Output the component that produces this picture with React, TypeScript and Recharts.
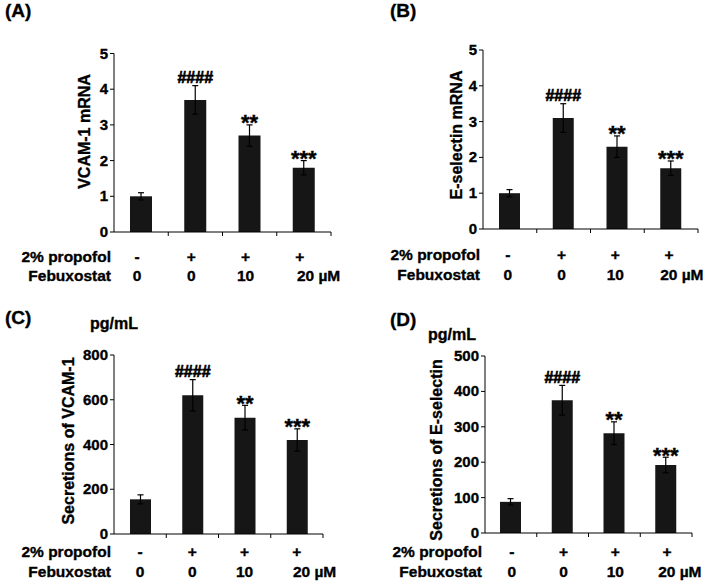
import React from 'react';
import { BarChart, Bar, XAxis, YAxis, ErrorBar, LabelList } from 'recharts';

// groups along the x axis
const groups = ['control', 'propofol', 'feb10', 'feb20'];
const propofolRow = ['-', '+', '+', '+'];
const febuxostatRow = ['0', '0', '10', '20 µM'];
const sigMarks = ['', '####', '**', '***'];

// (A) VCAM-1 mRNA
const vcamMrna = [1.0, 3.7, 2.7, 1.8];
const vcamMrnaErr = [0.1, 0.4, 0.3, 0.2];
// (B) E-selectin mRNA
const eselMrna = [1.0, 3.1, 2.3, 1.7];
const eselMrnaErr = [0.1, 0.4, 0.3, 0.2];
// (C) secreted VCAM-1, pg/mL
const vcamSecretion = [155, 620, 520, 420];
const vcamSecretionErr = [20, 70, 55, 50];
// (D) secreted E-selectin, pg/mL
const eselSecretion = [88, 375, 282, 192];
const eselSecretionErr = [9, 42, 32, 22];

const mrnaTicks = [0, 1, 2, 3, 4, 5];
const vcamSecretionTicks = [0, 200, 400, 600, 800];
const eselSecretionTicks = [0, 100, 200, 300, 400, 500];

const FONT = 'Arial, "Liberation Sans", Helvetica, sans-serif';
const Y_AXIS_W = 60;
const X_AXIS_H = 48;

const panels = [
    {
        letter: '(A)', letterPos: [5, 17], unit: null, unitPos: [0, 0],
        title: 'VCAM-1 mRNA', titleCenter: [84, 131.5],
        values: vcamMrna, errs: vcamMrnaErr, ticks: mrnaTicks,
        box: { left: 0, top: 0, w: 358, h: 290 },
        plot: { left: 114, right: 331, top: 53.5, bottom: 232 },
        barSize: 22, rowDy: [30, 49], labelDx: -4, lastDx: -7,
    },
    {
        letter: '(B)', letterPos: [390, 17], unit: null, unitPos: [0, 0],
        title: 'E-selectin mRNA', titleCenter: [456, 135],
        values: eselMrna, errs: eselMrnaErr, ticks: mrnaTicks,
        box: { left: 358, top: 0, w: 359, h: 290 },
        plot: { left: 483, right: 698, top: 50, bottom: 229 },
        barSize: 21, rowDy: [31, 51], labelDx: -2, lastDx: -11,
    },
    {
        letter: '(C)', letterPos: [5, 324], unit: 'pg/mL', unitPos: [90, 329],
        title: 'Secretions of VCAM-1', titleCenter: [68, 441],
        values: vcamSecretion, errs: vcamSecretionErr, ticks: vcamSecretionTicks,
        box: { left: 0, top: 290, w: 358, h: 294 },
        plot: { left: 114, right: 323, top: 355, bottom: 534 },
        barSize: 21, rowDy: [23, 43], labelDx: 0, lastDx: -4,
    },
    {
        letter: '(D)', letterPos: [390, 326], unit: 'pg/mL', unitPos: [428, 340],
        title: 'Secretions of E-selectin', titleCenter: [436, 450],
        values: eselSecretion, errs: eselSecretionErr, ticks: eselSecretionTicks,
        box: { left: 358, top: 290, w: 359, h: 294 },
        plot: { left: 485, right: 692, top: 356, bottom: 533 },
        barSize: 21, rowDy: [24, 44], labelDx: 1, lastDx: -8,
    },
];

// heavy bold look of the original figure
const boldText = {
    fontFamily: FONT,
    fontWeight: 'bold',
    fill: '#000',
    stroke: '#000',
    strokeWidth: 0.35,
};

// bold numeric labels on the value axis
function ValueTick(props: any) {
    const { x, y, payload } = props;
    return (
        <text x={x} y={y} dy={5} textAnchor="end" fontSize={15} {...boldText}>
            {payload.value}
        </text>
    );
}

// two-row treatment labels under each bar, plus a small tick at the category edge
function CategoryTick(props: any) {
    const { x, y, index, band, rowDy, labelDx, lastDx, plotLeft } = props;
    const isLast = index === groups.length - 1;
    const txt = { ...boldText, fontSize: 15.5 };
    return (
        <g>
            <line x1={x + band / 2} y1={y} x2={x + band / 2} y2={y + 4} stroke="#000" strokeWidth={1} />
            {index === 0 && (
                <>
                    <text x={plotLeft - 3} y={y + rowDy[0]} textAnchor="end" {...txt}>2% propofol</text>
                    <text x={plotLeft - 3} y={y + rowDy[1]} textAnchor="end" {...txt}>Febuxostat</text>
                </>
            )}
            <text x={x + labelDx} y={y + rowDy[0]} textAnchor="middle" {...txt}>{propofolRow[index]}</text>
            <text
                x={isLast ? x + lastDx : x + labelDx}
                y={y + rowDy[1]}
                textAnchor={isLast ? 'start' : 'middle'}
                {...txt}
            >
                {febuxostatRow[index]}
            </text>
        </g>
    );
}

// significance marks sit just above the error bar cap
const makeSigLabel = (values: number[], errs: number[]) => (props: any) => {
    const vb = props.viewBox && props.viewBox.width !== undefined ? props.viewBox : props;
    const x = Number(vb.x);
    const y = Number(vb.y);
    const width = Number(vb.width);
    const height = Number(vb.height);
    const i = typeof props.index === 'number' ? props.index : sigMarks.indexOf(props.value);
    if (i < 0 || !sigMarks[i]) return null;
    const pxPerUnit = height / values[i];
    const errTop = y - errs[i] * pxPerUnit;
    const isHash = sigMarks[i].startsWith('#');
    return (
        <text
            x={x + width / 2}
            y={isHash ? errTop - 2.5 : errTop + 5.5}
            textAnchor="middle"
            fontSize={isHash ? 16 : 22}
            {...boldText}
            strokeWidth={isHash ? 0.7 : 0.35}
        >
            {sigMarks[i]}
        </text>
    );
};

function Panel({ cfg }: { cfg: any }) {
    const { box, plot } = cfg;
    const data = groups.map((g, i) => ({
        group: g,
        value: cfg.values[i],
        err: cfg.errs[i],
        sig: sigMarks[i],
    }));
    const margin = {
        top: plot.top - box.top,
        bottom: box.top + box.h - plot.bottom - X_AXIS_H,
        left: plot.left - box.left - Y_AXIS_W,
        right: box.left + box.w - plot.right,
    };
    const band = (plot.right - plot.left) / groups.length;
    const ticks: number[] = cfg.ticks;
    const tcx = cfg.titleCenter[0] - box.left + 5.5;
    const tcy = cfg.titleCenter[1] - box.top;

    return (
        <div style={{ position: 'absolute', left: box.left, top: box.top, width: box.w, height: box.h }}>
            <BarChart width={box.w} height={box.h} data={data} margin={margin}>
                <XAxis
                    dataKey="group"
                    height={X_AXIS_H}
                    axisLine={{ stroke: '#000', strokeWidth: 1 }}
                    tickLine={false}
                    tickSize={0}
                    tickMargin={0}
                    interval={0}
                    tick={
                        <CategoryTick
                            band={band}
                            rowDy={cfg.rowDy}
                            labelDx={cfg.labelDx}
                            lastDx={cfg.lastDx}
                            plotLeft={plot.left - box.left}
                        />
                    }
                />
                <YAxis
                    width={Y_AXIS_W}
                    domain={[ticks[0], ticks[ticks.length - 1]]}
                    ticks={ticks}
                    interval={0}
                    axisLine={{ stroke: '#000', strokeWidth: 1 }}
                    tickLine={{ stroke: '#000', strokeWidth: 1 }}
                    tickSize={4}
                    tickMargin={2}
                    tick={<ValueTick />}
                />
                <Bar dataKey="value" fill="#161616" barSize={cfg.barSize} isAnimationActive={false}>
                    <ErrorBar dataKey="err" width={3} stroke="#000" strokeWidth={1.2} direction="y" />
                    <LabelList dataKey="sig" content={makeSigLabel(cfg.values, cfg.errs)} />
                </Bar>
            </BarChart>
            <svg
                width={box.w}
                height={box.h}
                style={{ position: 'absolute', left: 0, top: 0, pointerEvents: 'none' }}
            >
                <text x={cfg.letterPos[0] - box.left} y={cfg.letterPos[1] - box.top} fontSize={19} {...boldText}>
                    {cfg.letter}
                </text>
                {cfg.unit && (
                    <text x={cfg.unitPos[0] - box.left} y={cfg.unitPos[1] - box.top} fontSize={16} {...boldText}>
                        {cfg.unit}
                    </text>
                )}
                <text
                    x={tcx}
                    y={tcy}
                    transform={`rotate(-90 ${tcx} ${tcy})`}
                    textAnchor="middle"
                    fontSize={16}
                    {...boldText}
                >
                    {cfg.title}
                </text>
            </svg>
        </div>
    );
}

export default function App() {
    return (
        <div
            style={{
                position: 'absolute',
                left: 0,
                top: 0,
                width: 717,
                height: 584,
                background: '#fff',
                overflow: 'hidden',
            }}
        >
            {panels.map((p) => (
                <Panel key={p.letter} cfg={p} />
            ))}
        </div>
    );
}
